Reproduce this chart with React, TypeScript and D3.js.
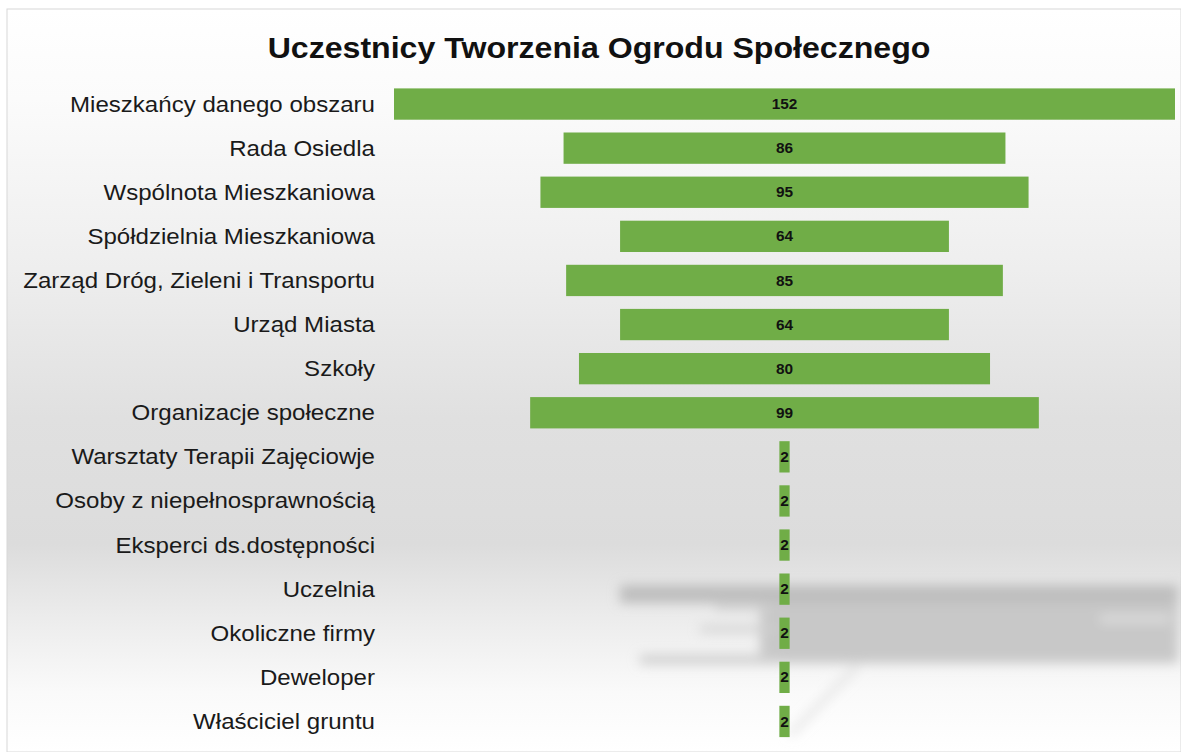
import React, { useEffect, useRef } from "react";
import * as d3 from "d3";

const title = "Uczestnicy Tworzenia Ogrodu Społecznego";

const categories = [
  "Mieszkańcy danego obszaru",
  "Rada Osiedla",
  "Wspólnota Mieszkaniowa",
  "Spółdzielnia Mieszkaniowa",
  "Zarząd Dróg, Zieleni i Transportu",
  "Urząd Miasta",
  "Szkoły",
  "Organizacje społeczne",
  "Warsztaty Terapii Zajęciowje",
  "Osoby z niepełnosprawnością",
  "Eksperci ds.dostępności",
  "Uczelnia",
  "Okoliczne firmy",
  "Deweloper",
  "Właściciel gruntu",
];

const values = [152, 86, 95, 64, 85, 64, 80, 99, 2, 2, 2, 2, 2, 2, 2];

const WIDTH = 1181;
const HEIGHT = 752;
const FONT = "'Liberation Sans', Arial, sans-serif";

export default function App() {
  const ref = useRef<SVGSVGElement | null>(null);

  useEffect(() => {
    const svg = d3.select(ref.current);
    svg.selectAll("*").remove();

    const defs = svg.append("defs");

    // background: white -> grey band -> white
    const grad = defs.append("linearGradient")
      .attr("id", "bg")
      .attr("x1", 0).attr("y1", 0).attr("x2", 0).attr("y2", 1);
    [
      [0, "#ffffff"],
      [0.12, "#fbfbfb"],
      [0.35, "#eeeeee"],
      [0.55, "#e0e0e0"],
      [0.72, "#dcdcdc"],
      [0.82, "#ececec"],
      [0.92, "#fafafa"],
      [1, "#ffffff"],
    ].forEach(([o, c]) => grad.append("stop").attr("offset", o as number).attr("stop-color", c as string));

    const blur = defs.append("filter").attr("id", "blur")
      .attr("filterUnits", "userSpaceOnUse")
      .attr("x", 560).attr("y", 540).attr("width", 640).attr("height", 220);
    blur.append("feGaussianBlur").attr("stdDeviation", 6);

    svg.append("rect")
      .attr("x", 0).attr("y", 0)
      .attr("width", WIDTH).attr("height", HEIGHT)
      .attr("fill", "#ffffff");

    svg.append("rect")
      .attr("x", 7).attr("y", 9)
      .attr("width", WIDTH - 7).attr("height", HEIGHT - 9)
      .attr("fill", "url(#bg)")
      .attr("stroke", "#d8d8d8")
      .attr("stroke-width", 1);

    // faint blurred shadow shapes in the lower right
    const shadow = svg.append("g").attr("filter", "url(#blur)");
    shadow.append("rect").attr("x", 760).attr("y", 595)
      .attr("width", 418).attr("height", 68).attr("fill", "#c8c8c8");
    shadow.append("rect").attr("x", 620).attr("y", 585)
      .attr("width", 558).attr("height", 18).attr("fill", "#bebebe");
    shadow.append("rect").attr("x", 715).attr("y", 604)
      .attr("width", 60).attr("height", 6).attr("fill", "#d0d0d0");
    shadow.append("rect").attr("x", 700).attr("y", 626)
      .attr("width", 75).attr("height", 6).attr("fill", "#d0d0d0");
    shadow.append("rect").attr("x", 640).attr("y", 655)
      .attr("width", 140).attr("height", 9).attr("fill", "#cecece");
    shadow.append("rect").attr("x", 1100).attr("y", 615)
      .attr("width", 70).attr("height", 8).attr("fill", "#dcdcdc");
    shadow.append("line")
      .attr("x1", 790).attr("y1", 735).attr("x2", 858).attr("y2", 665)
      .attr("stroke", "#e0e0e0").attr("stroke-width", 5);

    const centerX = 784.5;

    const x = d3.scaleLinear()
      .domain([0, 152])
      .range([0, 781]);

    const y = d3.scaleBand()
      .domain(categories)
      .range([82, 743.5])
      .paddingInner(0.29)
      .paddingOuter(0.145);

    // the original text is a bit wider than plain Arial
    svg.append("text")
      .attr("transform", "translate(599,58) scale(1.107,1)")
      .attr("text-anchor", "middle")
      .attr("font-family", FONT)
      .attr("font-weight", "bold")
      .attr("font-size", 29)
      .attr("fill", "#111")
      .text(title);

    const rows = svg.append("g")
      .selectAll("g")
      .data(categories.map((c, i) => ({ c, v: values[i] })))
      .join("g");

    rows.append("rect")
      .attr("x", d => centerX - x(d.v) / 2)
      .attr("y", d => y(d.c)!)
      .attr("width", d => x(d.v))
      .attr("height", y.bandwidth())
      .attr("fill", "#70ad47");

    rows.append("text")
      .attr("transform", d => `translate(375,${y(d.c)! + y.bandwidth() / 2}) scale(1.12,1)`)
      .attr("dy", "0.35em")
      .attr("text-anchor", "end")
      .attr("font-family", FONT)
      .attr("font-size", 21.5)
      .attr("fill", "#1a1a1a")
      .text(d => d.c);

    rows.append("text")
      .attr("transform", d => `translate(${centerX},${y(d.c)! + y.bandwidth() / 2}) scale(1.1,1)`)
      .attr("dy", "0.36em")
      .attr("text-anchor", "middle")
      .attr("font-family", FONT)
      .attr("font-weight", "bold")
      .attr("font-size", 14)
      .attr("fill", "#111")
      .text(d => d.v);
  }, []);

  return (
    <div style={{ position: "absolute", left: 0, top: 0 }}>
      <svg ref={ref} width={WIDTH} height={HEIGHT} style={{ display: "block" }} />
    </div>
  );
}
